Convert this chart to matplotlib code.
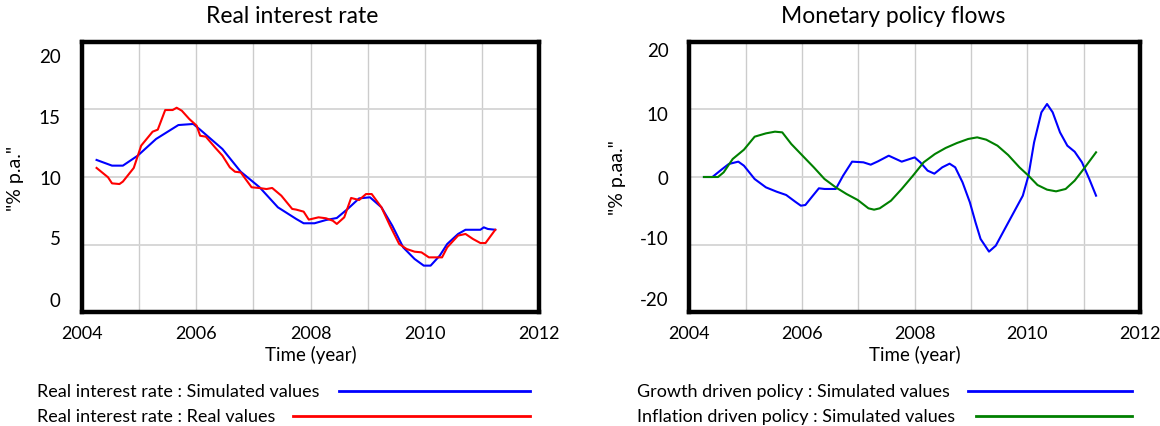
"""Vensim-style two panel chart: real interest rate and monetary policy flows."""

import matplotlib

matplotlib.use("Agg")
import matplotlib.pyplot as plt
from matplotlib.lines import Line2D

plt.rcParams["font.family"] = ["Lato", "DejaVu Sans"]

# --- data ---
rate_sim_t = [2004.26, 2004.53, 2004.72, 2004.98, 2005.30, 2005.69, 2005.95, 2006.07,
              2006.46, 2006.78, 2007.11, 2007.43, 2007.75, 2007.88, 2008.07, 2008.27,
              2008.46, 2008.65, 2008.85, 2009.04, 2009.24, 2009.43, 2009.62, 2009.82,
              2009.98, 2010.10, 2010.26, 2010.39, 2010.58, 2010.71, 2010.97, 2011.03,
              2011.10, 2011.23]
rate_sim = [11.26, 10.84, 10.84, 11.58, 12.81, 13.84, 13.92, 13.5,
            12.07, 10.39, 9.24, 7.76, 6.9, 6.58, 6.58, 6.82,
            6.97, 7.64, 8.42, 8.5, 7.76, 6.4, 4.8, 3.94,
            3.45, 3.45, 4.19, 5.05, 5.79, 6.1, 6.1, 6.28,
            6.16, 6.1]

rate_real_t = [2004.26, 2004.46, 2004.53, 2004.66, 2004.72, 2004.91, 2005.04, 2005.24,
               2005.33, 2005.46, 2005.59, 2005.66, 2005.75, 2005.88, 2006.01, 2006.07,
               2006.17, 2006.33, 2006.46, 2006.59, 2006.68, 2006.78, 2006.97, 2007.10,
               2007.23, 2007.33, 2007.49, 2007.68, 2007.75, 2007.88, 2007.97, 2008.14,
               2008.27, 2008.39, 2008.46, 2008.59, 2008.71, 2008.85, 2008.97, 2009.07,
               2009.24, 2009.39, 2009.55, 2009.68, 2009.82, 2009.94, 2010.07, 2010.30,
               2010.39, 2010.58, 2010.71, 2010.84, 2010.97, 2011.06, 2011.23]
rate_real = [10.67, 9.98, 9.53, 9.48, 9.66, 10.67, 12.32, 13.35,
             13.5, 14.95, 14.95, 15.12, 14.9, 14.29, 13.79, 13.05,
             12.98, 12.19, 11.58, 10.71, 10.39, 10.34, 9.24, 9.19,
             9.11, 9.19, 8.62, 7.64, 7.59, 7.44, 6.85, 7.02,
             6.95, 6.77, 6.53, 7.02, 8.45, 8.3, 8.74, 8.74,
             7.76, 6.4, 5.05, 4.68, 4.48, 4.43, 4.06, 4.06,
             4.8, 5.67, 5.79, 5.42, 5.12, 5.12, 6.1]

growth_t = [2004.26, 2004.41, 2004.57, 2004.70, 2004.87, 2004.97, 2005.16, 2005.36,
            2005.55, 2005.72, 2005.88, 2005.98, 2006.06, 2006.17, 2006.30, 2006.40,
            2006.60, 2006.73, 2006.89, 2007.09, 2007.22, 2007.35, 2007.54, 2007.77,
            2008.00, 2008.10, 2008.23, 2008.35, 2008.49, 2008.62, 2008.72, 2008.85,
            2008.98, 2009.08, 2009.17, 2009.32, 2009.44, 2009.60, 2009.76, 2009.92,
            2010.02, 2010.12, 2010.25, 2010.35, 2010.45, 2010.58, 2010.71, 2010.84,
            2010.97, 2011.10, 2011.22]
growth = [0.0, 0.0, 1.08, 1.92, 2.27, 1.67, -0.3, -1.53,
          -2.17, -2.66, -3.65, -4.24, -4.14, -3.0, -1.67, -1.77,
          -1.77, 0.2, 2.27, 2.17, 1.82, 2.32, 3.15, 2.27,
          2.9, 2.17, 0.94, 0.49, 1.43, 1.97, 1.43, -0.79,
          -3.74, -6.7, -9.16, -11.03, -10.15, -7.68, -5.22, -2.76,
          0.2, 5.12, 9.56, 10.79, 9.56, 6.6, 4.63, 3.74,
          2.17, -0.3, -2.76]

inflation_t = [2004.26, 2004.51, 2004.61, 2004.77, 2004.97, 2005.16, 2005.36, 2005.52,
               2005.65, 2005.81, 2006.01, 2006.21, 2006.40, 2006.60, 2006.79, 2006.99,
               2007.18, 2007.28, 2007.38, 2007.58, 2007.77, 2007.97, 2008.16, 2008.36,
               2008.55, 2008.75, 2008.95, 2009.11, 2009.27, 2009.47, 2009.66, 2009.86,
               2010.02, 2010.18, 2010.35, 2010.51, 2010.68, 2010.84, 2011.00, 2011.22]
inflation = [0.0, 0.0, 0.69, 2.66, 4.04, 5.96, 6.45, 6.7,
             6.6, 4.88, 3.15, 1.43, -0.3, -1.53, -2.51, -3.4,
             -4.63, -4.83, -4.63, -3.5, -1.77, 0.2, 2.17, 3.4,
             4.29, 5.02, 5.62, 5.86, 5.52, 4.63, 3.25, 1.43,
             0.2, -1.18, -1.87, -2.12, -1.77, -0.54, 1.18, 3.65]

year_ticks = [2004, 2006, 2008, 2010, 2012]
left_yticks = [0, 5, 10, 15, 20]
right_yticks = [-20, -10, 0, 10, 20]

W, H = 1160, 427


def px_box(x0, x1, y0, y1):
    return [x0 / W, 1 - y1 / H, (x1 - x0) / W, (y1 - y0) / H]


def style_axes(ax, ylim, yticks, label_pos, ylabel, ylabel_x):
    ax.set_xlim(2004, 2012)
    ax.set_ylim(*ylim)
    ax.set_xticks(year_ticks)
    ax.set_xticklabels([str(y) for y in year_ticks], fontsize=13)
    ax.tick_params(axis="x", length=0, pad=9)
    # gridlines on every year and every inner grid step
    for yr in range(2005, 2012):
        ax.axvline(yr, color="#cccccc", lw=1.0, zorder=0)
    for v in yticks[1:-1]:
        ax.axhline(v, color="#d4d4d4", lw=1.3, zorder=0)
    # tick labels sit slightly inside the grid positions, as in the reference
    ax.set_yticks(label_pos)
    ax.set_yticklabels([str(v) for v in yticks], fontsize=13.5)
    ax.tick_params(axis="y", length=0, pad=15)
    for side in ax.spines.values():
        side.set_linewidth(3.2)
        side.set_color("black")
    ax.set_xlabel("Time (year)", fontsize=13.5, labelpad=3)
    ax.text(ylabel_x, 0.5, ylabel, rotation=90, fontsize=14,
            transform=ax.transAxes, ha="center", va="center")


def legend_rows(fig, x_text, rows):
    for label, y, x0, x1, color in rows:
        fig.text(x_text / W, 1 - y / H, label, fontsize=13, ha="left", va="center")
        fig.add_artist(Line2D([x0 / W, x1 / W], [1 - y / H, 1 - y / H],
                              color=color, lw=2.0, transform=fig.transFigure))


def main():
    fig = plt.figure(figsize=(W / 100, H / 100), dpi=100)

    ax1 = fig.add_axes(px_box(81.7, 539.3, 42.7, 313.3))
    ax1.plot(rate_sim_t, rate_sim, color="#0000ff", lw=1.5)
    ax1.plot(rate_real_t, rate_real, color="#ff0000", lw=1.5)
    style_axes(ax1, (0, 20), left_yticks, [0.98, 5.56, 10.0, 14.5, 19.02],
               '"% p.a."', -0.145)
    fig.text(292 / W, 1 - 16.5 / H, "Real interest rate", fontsize=16.5,
             ha="center", va="center")

    ax2 = fig.add_axes(px_box(689.3, 1140, 42.7, 313.3))
    ax2.plot(growth_t, growth, color="#0000ff", lw=1.5)
    ax2.plot(inflation_t, inflation, color="#008000", lw=1.5)
    style_axes(ax2, (-20, 20), right_yticks, [-17.9, -8.9, 0, 9.46, 18.9],
               '"% p.aa."', -0.16)
    fig.text(893 / W, 1 - 16.5 / H, "Monetary policy flows", fontsize=16.5,
             ha="center", va="center")

    legend_rows(fig, 36.7, [
        ("Real interest rate : Simulated values", 392, 339, 530.4, "#0000ff"),
        ("Real interest rate : Real values", 417, 292.6, 530.4, "#ff0000"),
    ])
    legend_rows(fig, 637.4, [
        ("Growth driven policy : Simulated values", 392, 968, 1131.9, "#0000ff"),
        ("Inflation driven policy : Simulated values", 417, 976.3, 1131.9, "#008000"),
    ])

    fig.savefig("out.png", dpi=100)
    plt.close(fig)


if __name__ == "__main__":
    main()
